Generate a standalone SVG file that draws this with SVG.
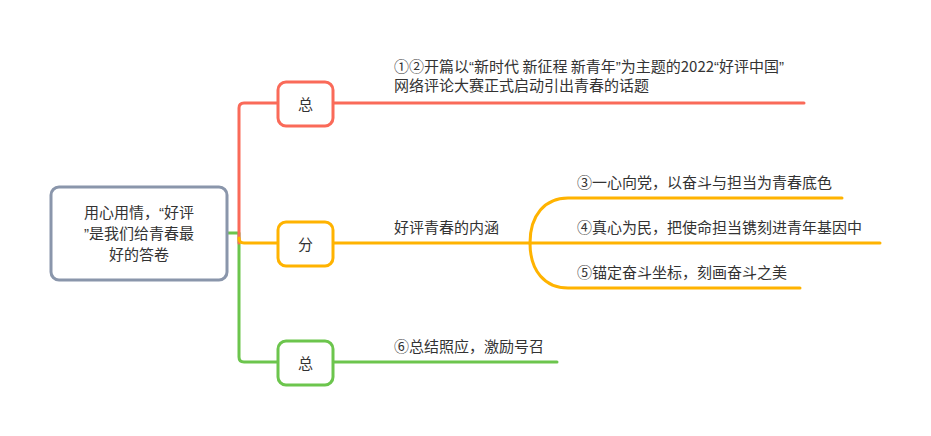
<svg xmlns="http://www.w3.org/2000/svg" width="931" height="436" viewBox="0 0 931 436">
<style>
text{font-family:"Microsoft YaHei","Noto Sans CJK SC","Noto Sans",sans-serif;font-size:15px;fill:#333}
.q{font-family:"Liberation Sans",sans-serif}
.c{text-anchor:middle}
.ln{fill:none;stroke-width:3;stroke-linecap:round;stroke-linejoin:round}
.r{stroke:#fa6a59}.o{stroke:#ffb300}.g{stroke:#6cc54d}
.box{fill:#fff;stroke-width:3}
</style>
<rect width="931" height="436" fill="#fff"/>
<g id="connectors">
<path class="ln g" d="M227,233 H239 V357 Q239,362 244,362 H278"/>
<path class="ln g" d="M333,362 H557"/>
<path class="ln r" d="M239,243 V108 Q239,103 244,103 H278"/>
<path class="ln r" d="M333,103 H804"/>
<path class="ln o" d="M239,238 Q239,243 244,243 H278"/>
<path class="ln o" d="M333,243 H530"/>
<path class="ln o" d="M530,243 C530,215 545,198 568,198 H842"/>
<path class="ln o" d="M530,243 H880"/>
<path class="ln o" d="M530,243 C530,271 545,288 568,288 H800"/>
</g>
<g id="root">
<rect x="51" y="187" width="176" height="93" rx="8" class="box" stroke="#8a96ab"/>
<text class="c" x="139" y="218">用心用情，<tspan class="q">“</tspan>好评</text>
<text class="c" x="139" y="239"><tspan class="q">”</tspan>是我们给青春最</text>
<text class="c" x="139" y="260">好的答卷</text>
</g>
<g id="n1">
<rect x="278" y="82" width="55" height="44" rx="8" class="box r"/>
<text class="c" x="305.5" y="110">总</text>
</g>
<g id="n1t">
<text x="394" y="72">①②开篇以<tspan class="q">“</tspan>新时代 新征程 新青年<tspan class="q">”</tspan>为主题的2022<tspan class="q">“</tspan>好评中国<tspan class="q">”</tspan></text>
<text x="394" y="91">网络评论大赛正式启动引出青春的话题</text>
</g>
<g id="n2">
<rect x="278" y="222" width="55" height="44" rx="8" class="box o"/>
<text class="c" x="305.5" y="250">分</text>
</g>
<g id="n2t"><text x="394" y="233">好评青春的内涵</text></g>
<g id="n21"><text x="577" y="188">③一心向党，以奋斗与担当为青春底色</text></g>
<g id="n22"><text x="577" y="233">④真心为民，把使命担当镌刻进青年基因中</text></g>
<g id="n23"><text x="577" y="278">⑤锚定奋斗坐标，刻画奋斗之美</text></g>
<g id="n3">
<rect x="278" y="341" width="55" height="44" rx="8" class="box g"/>
<text class="c" x="305.5" y="369">总</text>
</g>
<g id="n3t"><text x="394" y="352">⑥总结照应，激励号召</text></g>
</svg>
